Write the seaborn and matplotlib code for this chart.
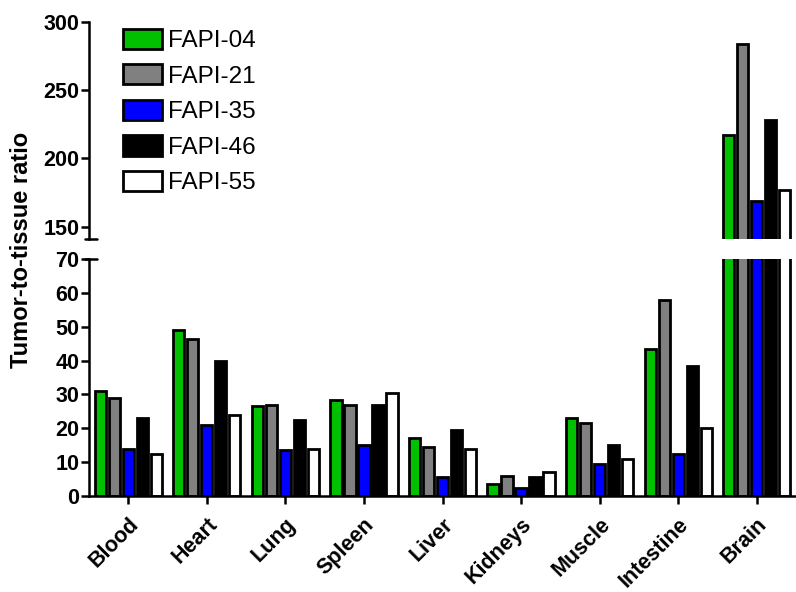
import numpy as np
import pandas as pd
import seaborn as sns
import matplotlib.pyplot as plt

tissues = ["Blood", "Heart", "Lung", "Spleen", "Liver", "Kidneys", "Muscle", "Intestine", "Brain"]
tracers = ["FAPI-04", "FAPI-21", "FAPI-35", "FAPI-46", "FAPI-55"]
fapi_04 = [31.0, 49.0, 26.5, 28.5, 17.0, 3.5, 23.0, 43.5, 217.0]
fapi_21 = [29.0, 46.5, 27.0, 27.0, 14.5, 6.0, 21.5, 58.0, 284.0]
fapi_35 = [14.0, 21.0, 13.5, 15.0, 5.5, 2.5, 9.5, 12.5, 168.5]
fapi_46 = [23.0, 40.0, 22.5, 27.0, 19.5, 5.5, 15.0, 38.5, 228.0]
fapi_55 = [12.5, 24.0, 14.0, 30.5, 14.0, 7.0, 11.0, 20.0, 177.0]
colors = ["#00c000", "#808080", "#0000ff", "#000000", "#ffffff"]

series = [fapi_04, fapi_21, fapi_35, fapi_46, fapi_55]
df = pd.DataFrame({
    "tissue": np.tile(tissues, len(tracers)),
    "tracer": np.repeat(tracers, len(tissues)),
    "ratio": np.concatenate(series),
})

sns.set_style("ticks", {"axes.edgecolor": "black", "text.color": "black",
                        "xtick.color": "black", "ytick.color": "black",
                        "axes.labelcolor": "black"})
plt.rcParams["font.family"] = ["Liberation Sans", "DejaVu Sans"]
plt.rcParams["axes.linewidth"] = 1.8

fig = plt.figure(figsize=(7.96, 5.92), dpi=100)
left, width = 89 / 796, 1 - 89 / 796
ax_top = fig.add_axes([left, 1 - 239 / 592, width, 217 / 592])
ax_bot = fig.add_axes([left, 1 - 496 / 592, width, 237 / 592])

for ax in (ax_top, ax_bot):
    sns.barplot(data=df, x="tissue", y="ratio", hue="tracer", order=tissues,
                hue_order=tracers, palette=colors, saturation=1, errorbar=None,
                width=0.89, gap=0.2, edgecolor="black", linewidth=2.0, ax=ax,
                legend=(ax is ax_top))
    ax.set_xlim(-0.5, 8.5)
    ax.set_xlabel("")
    ax.set_ylabel("")
    sns.despine(ax=ax)
    ax.tick_params(axis="y", length=6, width=1.8, pad=1, labelsize=15.5)
    ax.tick_params(axis="x", length=6, width=1.8, pad=7, labelsize=15.5)

# upper part of the broken axis
ax_top.set_ylim(141, 300)
top_ticks = [150, 200, 250, 300]
ax_top.set_yticks(top_ticks, [str(t) for t in top_ticks], fontweight="bold")
ax_top.spines["bottom"].set_visible(False)
ax_top.tick_params(axis="x", bottom=False, labelbottom=False)
ax_top.plot([-0.006, 0.011], [0, 0], transform=ax_top.transAxes,
            color="black", lw=1.8, clip_on=False)

# lower part
ax_bot.set_ylim(0, 70)
bot_ticks = list(range(0, 71, 10))
ax_bot.set_yticks(bot_ticks, [str(t) for t in bot_ticks], fontweight="bold")
ax_bot.plot([-0.006, 0.011], [1, 1], transform=ax_bot.transAxes,
            color="black", lw=1.8, clip_on=False)
ax_bot.set_xticks(range(len(tissues)))
ax_bot.set_xticklabels(tissues, rotation=45, ha="right", rotation_mode="anchor",
                       fontweight="bold")

leg = ax_top.legend(loc="upper left", bbox_to_anchor=(0.048, 0.97), frameon=False,
                    fontsize=17.5, borderpad=0, borderaxespad=0, handlelength=1.6,
                    handleheight=0.9, handletextpad=0.25, labelspacing=0.5)
for h in leg.legend_handles:
    h.set_edgecolor("black")
    h.set_linewidth(2.0)

fig.text(22 / 796, 1 - 250 / 592, "Tumor-to-tissue ratio", rotation=90,
         ha="center", va="center", fontsize=17, fontweight="bold")

fig.savefig("out.png", dpi=100)
